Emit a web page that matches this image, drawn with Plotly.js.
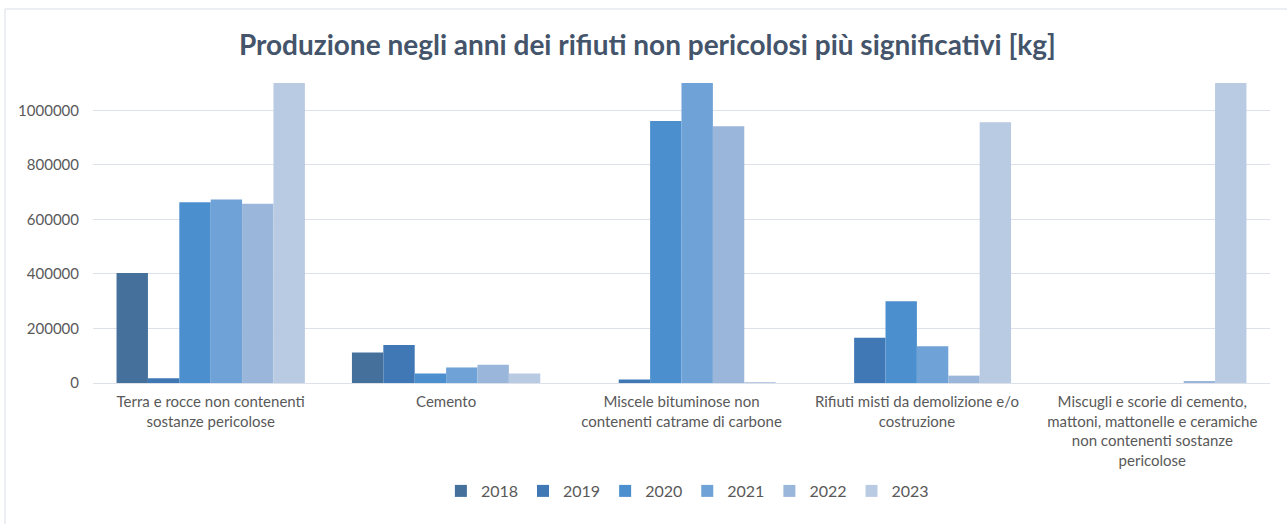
<!DOCTYPE html>
<html>
<head>
<meta charset="utf-8">
<script src="https://cdn.plot.ly/plotly-3.0.1.min.js"></script>
<style>
  html, body { margin: 0; padding: 0; background: #ffffff; }
  #chart { width: 1287px; height: 524px; }
</style>
</head>
<body>
<div id="chart"></div>
<script>
// Categorie di rifiuti (etichette asse x)
const categories = [
    'Terra e rocce non contenenti<br>sostanze pericolose',
    'Cemento',
    'Miscele bituminose non<br>contenenti catrame di carbone',
    'Rifiuti misti da demolizione e/o<br>costruzione',
    'Miscugli e scorie di cemento,<br>mattoni, mattonelle e ceramiche<br>non contenenti sostanze<br>pericolose'
];

const years = ['2018', '2019', '2020', '2021', '2022', '2023'];

// kg per anno (le barre oltre 1.1M sono tagliate nel grafico originale)
const values2018 = [403000, 112000, 0, 0, 0];
const values2019 = [17000, 139000, 13000, 166000, 0];
const values2020 = [663000, 35000, 961000, 300000, 0];
const values2021 = [673000, 57000, 1250000, 135000, 0];
const values2022 = [657000, 67000, 941000, 27000, 5000];
const values2023 = [1300000, 35000, 3000, 956000, 1200000];

const seriesValues = [values2018, values2019, values2020, values2021, values2022, values2023];
const colors = ['#44709b', '#3f78b5', '#4b8fcf', '#6fa2d7', '#9bb6db', '#b9cae3'];

const traces = years.map((year, i) => ({
    x: categories,
    y: seriesValues[i],
    name: year,
    type: 'bar',
    marker: { color: colors[i], line: { width: 0 } }
}));

const layout = {
    width: 1287,
    height: 524,
    margin: { l: 93, r: 17, t: 83, b: 141 },
    paper_bgcolor: '#ffffff',
    plot_bgcolor: '#ffffff',
    font: { family: 'Lato, sans-serif', color: '#595959', size: 15 },
    title: {
        text: 'Produzione negli anni dei rifiuti non pericolosi più significativi [kg]',
        font: { family: 'Lato, sans-serif', size: 28, color: '#44546a', weight: 'bold' },
        x: 0.503,
        xanchor: 'center',
        xref: 'container',
        y: 0.914,
        yanchor: 'middle'
    },
    barmode: 'group',
    bargap: 0.2,
    bargroupgap: 0,
    xaxis: {
        type: 'category',
        showline: false,
        ticks: '',
        ticklabelstandoff: 8,
        tickfont: { size: 15, color: '#595959' },
        tickangle: 0,
        automargin: false
    },
    yaxis: {
        range: [0, 1100000],
        dtick: 200000,
        tickformat: 'd',
        showgrid: true,
        gridcolor: '#dde2ea',
        gridwidth: 1,
        zeroline: true,
        zerolinecolor: '#dde2ea',
        zerolinewidth: 1,
        showline: false,
        ticks: '',
        ticklabelstandoff: 13,
        tickfont: { size: 15, color: '#595959' },
        automargin: false
    },
    showlegend: true,
    legend: {
        orientation: 'h',
        x: 0.505,
        xanchor: 'center',
        y: -0.36,
        yanchor: 'middle',
        font: { size: 16, color: '#595959' },
        traceorder: 'normal'
    },
    shapes: [{
        type: 'rect',
        xref: 'paper', yref: 'paper',
        x0: -0.0748, x1: 1.05, y0: -0.7, y1: 1.2467,
        line: { color: '#d9dfe8', width: 1 },
        fillcolor: 'rgba(0,0,0,0)',
        layer: 'below'
    }]
};

Plotly.newPlot('chart', traces, layout, { displayModeBar: false, responsive: false });
</script>
</body>
</html>
